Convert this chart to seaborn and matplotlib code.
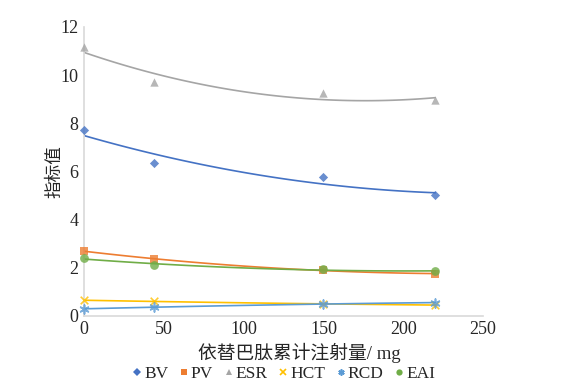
import numpy as np
import pandas as pd
import matplotlib
matplotlib.use("Agg")
import matplotlib.pyplot as plt
import seaborn as sns
from matplotlib.lines import Line2D

dose = [0, 44, 150, 220]
bv = [7.7, 6.35, 5.75, 5.0]
pv = [2.7, 2.35, 1.9, 1.75]
esr = [11.15, 9.7, 9.25, 8.95]
hct = [0.65, 0.6, 0.5, 0.45]
rcd = [0.3, 0.35, 0.5, 0.55]
eai = [2.4, 2.1, 1.95, 1.85]

series_names = ["BV", "PV", "ESR", "HCT", "RCD", "EAI"]
series_vals = [bv, pv, esr, hct, rcd, eai]
colors = ["#4472C4", "#ED7D31", "#A5A5A5", "#FFC000", "#5B9BD5", "#70AD47"]
markers = ["D", "s", "^", "x", (6, 2, 0), "o"]
msizes = [22, 36, 36, 30, 40, 40]
line_markers = ["x", (6, 2, 0)]

x_ticks = [0, 50, 100, 150, 200, 250]
y_ticks = [0, 2, 4, 6, 8, 10, 12]
xlabel = "依替巴肽累计注射量/ mg"
ylabel = "指标值"

sns.set_style("white")
plt.rcParams['font.family'] = ['Liberation Serif', 'Noto Sans CJK SC']

fig = plt.figure(figsize=(5.67, 3.9), dpi=100)
ax = fig.add_axes([0.148, 0.19, 0.704, 0.741])

for name, vals, c, m, s in zip(series_names, series_vals, colors, markers, msizes):
    df = pd.DataFrame({"x": dose, "y": vals})
    is_line = m in line_markers
    sns.regplot(data=df, x="x", y="y", order=2, ci=None, ax=ax, color=c,
                marker=m, scatter_kws={"s": s, "linewidths": 1.2 if is_line else 0,
                                       "zorder": 3, "clip_on": False},
                line_kws={"lw": 1.2, "zorder": 2})

ax.set_xlim(0, 250)
ax.set_ylim(0, 12)
ax.set_xticks(x_ticks)
ax.set_yticks(y_ticks)
ax.tick_params(labelsize=13, length=0, pad=4)
for sp in ["top", "right"]:
    ax.spines[sp].set_visible(False)
for sp in ["left", "bottom"]:
    ax.spines[sp].set_color("#D9D9D9")
    ax.spines[sp].set_linewidth(1.2)
ax.set_xlabel(xlabel, fontsize=13.5, family=['Liberation Serif', 'Noto Sans CJK SC'])
ax.xaxis.set_label_coords(0.54, -0.094)
ax.set_ylabel(ylabel, fontsize=12.7, family=['Noto Sans CJK SC'])
ax.yaxis.set_label_coords(-0.052, 0.5)

handles = [Line2D([], [], ls="none", marker=m, color=c, markersize=4.5,
                  markeredgewidth=1.2 if m in line_markers else 0)
           for m, c in zip(markers, colors)]
fig.legend(handles, series_names, loc="center", bbox_to_anchor=(0.5, 0.042),
           ncol=6, frameon=False, fontsize=12.5, handletextpad=0.1,
           columnspacing=0.6, handlelength=0.6, borderpad=0)

fig.savefig("out.png", dpi=100)
